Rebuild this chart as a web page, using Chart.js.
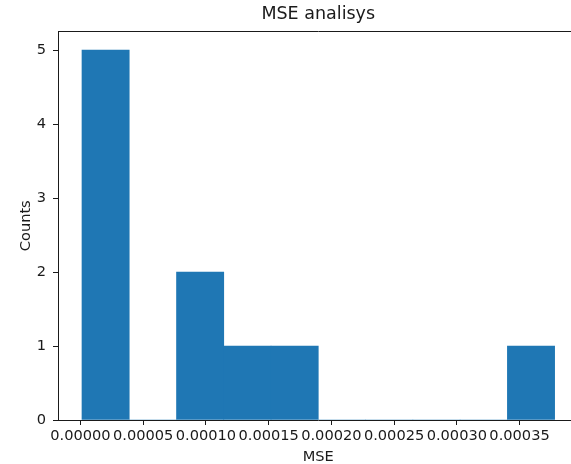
<!DOCTYPE html>
<html>
<head>
<meta charset="utf-8">
<script src="https://cdn.jsdelivr.net/npm/chart.js@4/dist/chart.umd.min.js"></script>
<style>
  html, body { margin: 0; padding: 0; background: #ffffff; overflow: hidden; }
  #frame { width: 571px; height: 464px; overflow: hidden; }
  canvas { display: block; }
</style>
</head>
<body>
<div id="frame"><canvas id="c" width="579" height="464"></canvas></div>
<script>
// Histogram of MSE values: 10 equal-width bins
const binEdges = [0.0000012, 0.0000389, 0.0000766, 0.0001142, 0.0001519, 0.0001896,
                  0.0002273, 0.0002650, 0.0003026, 0.0003403, 0.0003780];
const counts = [5, 0, 2, 1, 1, 0, 0, 0, 0, 1];
const xTicks = [0, 0.00005, 0.00010, 0.00015, 0.00020, 0.00025, 0.00030, 0.00035];
const yTicks = [0, 1, 2, 3, 4, 5];
const xRange = [-0.0000179, 0.000397];
const yRange = [0, 5.25];

const bars = counts.map((c, i) => ({ x: (binEdges[i] + binEdges[i + 1]) / 2, y: c }));

const FONT = 'DejaVu Sans';
const INK = '#1a1a1a';

new Chart(document.getElementById('c'), {
  type: 'bar',
  data: {
    datasets: [{
      data: bars,
      backgroundColor: '#1f77b4',
      borderWidth: 0,
      barPercentage: 1,
      categoryPercentage: 1
    }]
  },
  options: {
    responsive: false,
    animation: false,
    events: [],
    layout: { padding: { left: 0, right: 0.5, top: 0, bottom: 0 } },
    plugins: {
      legend: { display: false },
      tooltip: { enabled: false },
      title: {
        display: true,
        text: 'MSE analisys',
        fullSize: false,
        color: INK,
        font: { family: FONT, size: 17.5, weight: 'normal', lineHeight: 1.2 },
        padding: { top: 4, bottom: 6.5 }
      }
    },
    scales: {
      x: {
        type: 'linear',
        position: 'bottom',
        min: xRange[0],
        max: xRange[1],
        offset: false,
        afterBuildTicks: s => { s.ticks = xTicks.map(v => ({ value: v })); },
        afterFit: s => { s.height = 44; },
        ticks: {
          color: INK,
          font: { family: FONT, size: 14.6 },
          padding: 2,
          maxRotation: 0,
          autoSkip: false,
          callback: v => v.toFixed(5)
        },
        grid: {
          drawOnChartArea: false,
          offset: false,
          tickLength: 5,
          tickColor: INK,
          tickWidth: 1
        },
        border: { display: true, color: INK, width: 1 },
        title: {
          display: true,
          text: 'MSE',
          color: INK,
          font: { family: FONT, size: 14.6, lineHeight: 0.9 },
          padding: { top: 0, bottom: 0 }
        }
      },
      xTop: {
        type: 'linear',
        position: 'top',
        min: xRange[0],
        max: xRange[1],
        afterFit: s => { s.height = 0; },
        ticks: { display: false },
        grid: { display: false },
        border: { display: true, color: INK, width: 1 }
      },
      y: {
        type: 'linear',
        position: 'left',
        min: yRange[0],
        max: yRange[1],
        afterBuildTicks: s => { s.ticks = yTicks.map(v => ({ value: v })); },
        afterFit: s => { s.width = 58; },
        ticks: {
          color: INK,
          font: { family: FONT, size: 14.6 },
          padding: 7
        },
        grid: {
          drawOnChartArea: false,
          tickLength: 5,
          tickColor: INK,
          tickWidth: 1
        },
        border: { display: true, color: INK, width: 1 },
        title: {
          display: true,
          text: 'Counts',
          color: INK,
          font: { family: FONT, size: 14.6, lineHeight: 1 },
          padding: { top: 19, bottom: 0 }
        }
      }
    }
  }
});
</script>
</body>
</html>
